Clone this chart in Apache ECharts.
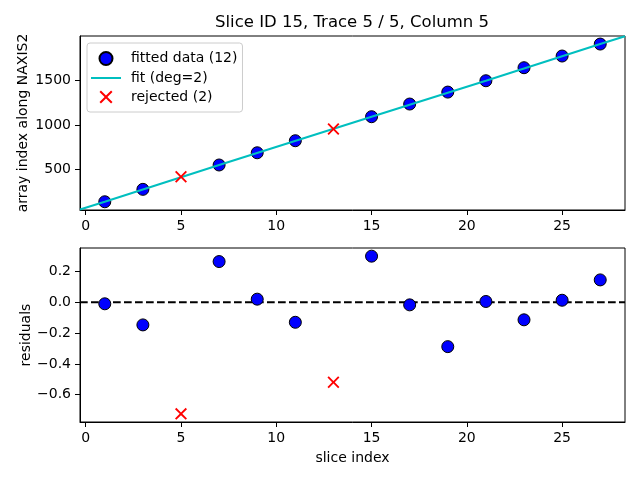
<!DOCTYPE html>
<html>
<head>
<meta charset="utf-8">
<script src="https://cdn.jsdelivr.net/npm/echarts@6/dist/echarts.min.js"></script>
<style>html,body{margin:0;padding:0;background:#fff}#c{width:640px;height:480px}</style>
</head>
<body>
<div id="c"></div>
<script>
const titleText = 'Slice ID 15, Trace 5 / 5, Column 5';
const fittedX = [1, 3, 7, 9, 11, 15, 17, 19, 21, 23, 25, 27];
const fittedY = [134, 274, 549, 687, 823, 1094, 1237, 1372, 1500, 1647, 1779, 1914];
const rejectedX = [5, 13];
const rejectedY = [416, 955];
const fitX = [-0.3, 1, 7, 15, 21, 27, 28.3];
const fitY = [46, 134, 549, 1094, 1500, 1914, 2003];
const residY = [-0.01, -0.147, 0.264, 0.02, -0.13, 0.299, -0.017, -0.288, 0.005, -0.114, 0.013, 0.145];
const rejectedResid = [-0.724, -0.519];
const zeroLineX = [-0.3, 28.3];
const zeroLineY = [0, 0];
const xTicks = [0, 5, 10, 15, 20, 25];
const topYTicks = [500, 1000, 1500];
const residTicks = [-0.6, -0.4, -0.2, 0, 0.2];

const FONT = 'DejaVu Sans';
const xMark = 'path://M0,1.1L1.1,0L5,3.9L8.9,0L10,1.1L6.1,5L10,8.9L8.9,10L5,6.1L1.1,10L0,8.9L3.9,5Z';
const lineIcon = 'path://M0,0L0.01,0L0,0.01ZM0,5.5L30,5.5L30,7.5L0,7.5ZM30,13L29.99,13L30,12.99Z';
const zip = (a, b) => a.map((v, i) => [v, b[i]]);

function xAxisCfg(gi, withName) {
  return {
    type: 'value', gridIndex: gi, min: -0.3, max: 28.3,
    axisLine: { show: true, onZero: false, lineStyle: { color: '#000', width: 1 } },
    axisTick: { show: true, length: 5, customValues: xTicks, lineStyle: { color: '#000' } },
    axisLabel: { customValues: xTicks, color: '#000', fontFamily: FONT, fontSize: 14, margin: 9 },
    splitLine: { show: false },
    name: withName ? 'slice index' : '', nameLocation: 'middle', nameGap: 29,
    nameTextStyle: { color: '#000', fontFamily: FONT, fontSize: 14 }
  };
}
function fmtMinus(v, dec) {
  const s = dec === 0 ? String(Math.round(v)) : v.toFixed(dec);
  return s.replace('-', '\u2212');
}

const chart = echarts.init(document.getElementById('c'), null, { renderer: 'canvas' });
chart.setOption({
  animation: false,
  backgroundColor: '#fff',
  title: {
    text: titleText, left: 352, top: 14, padding: 0, textAlign: 'center',
    textStyle: { color: '#000', fontFamily: FONT, fontSize: 16.5, fontWeight: 'normal' }
  },
  legend: {
    orient: 'vertical', left: 87, top: 43, padding: [8, 5, 8, 4],
    itemWidth: 30, itemHeight: 13, itemGap: 5,
    backgroundColor: 'rgba(255,255,255,0.8)', borderColor: '#cccccc', borderWidth: 1, borderRadius: 3,
    textStyle: { color: '#000', fontFamily: FONT, fontSize: 14, padding: [0, 0, 0, 5] },
    data: [
      { name: 'fitted data (12)', icon: 'circle' },
      { name: 'fit (deg=2)', icon: lineIcon },
      { name: 'rejected (2)', icon: xMark }
    ]
  },
  grid: [
    { left: 80, right: 15, top: 36, height: 174, show: true, borderColor: '#000', borderWidth: 1, backgroundColor: 'transparent' },
    { left: 80, right: 15, top: 248, height: 174, show: true, borderColor: '#000', borderWidth: 1, backgroundColor: 'transparent' }
  ],
  xAxis: [xAxisCfg(0, false), xAxisCfg(1, true)],
  yAxis: [
    {
      type: 'value', gridIndex: 0, min: 41, max: 2005,
      axisLine: { show: true, onZero: false, lineStyle: { color: '#000' } },
      axisTick: { show: true, length: 5, customValues: topYTicks, lineStyle: { color: '#000' } },
      axisLabel: { customValues: topYTicks, color: '#000', fontFamily: FONT, fontSize: 14, margin: 9,
                   formatter: v => fmtMinus(v, 0) },
      splitLine: { show: false },
      name: 'array index along NAXIS2', nameLocation: 'middle', nameGap: 50, nameMoveOverlap: false,
      nameTextStyle: { color: '#000', fontFamily: FONT, fontSize: 14 }
    },
    {
      type: 'value', gridIndex: 1, min: -0.777, max: 0.352,
      axisLine: { show: true, onZero: false, lineStyle: { color: '#000' } },
      axisTick: { show: true, length: 5, customValues: residTicks, lineStyle: { color: '#000' } },
      axisLabel: { customValues: residTicks, color: '#000', fontFamily: FONT, fontSize: 14, margin: 9,
                   formatter: v => fmtMinus(v, 1) },
      splitLine: { show: false },
      name: 'residuals', nameLocation: 'middle', nameGap: 47, nameMoveOverlap: false,
      nameTextStyle: { color: '#000', fontFamily: FONT, fontSize: 14 }
    }
  ],
  series: [
    {
      name: 'fitted data (12)', type: 'scatter', xAxisIndex: 0, yAxisIndex: 0, z: 2,
      symbol: 'circle', symbolSize: 12,
      itemStyle: { color: '#0000ff', borderColor: '#000', borderWidth: 1, opacity: 1 },
      data: zip(fittedX, fittedY)
    },
    {
      name: 'fit (deg=2)', type: 'line', xAxisIndex: 0, yAxisIndex: 0, z: 3,
      symbol: 'none', smooth: false,
      lineStyle: { color: '#00bfbf', width: 2 }, itemStyle: { color: '#00bfbf' },
      data: zip(fitX, fitY)
    },
    {
      name: 'rejected (2)', type: 'scatter', xAxisIndex: 0, yAxisIndex: 0, z: 4,
      symbol: xMark, symbolSize: 12,
      itemStyle: { color: '#ff0000', opacity: 1 },
      data: zip(rejectedX, rejectedY)
    },
    {
      name: 'zero', type: 'line', xAxisIndex: 1, yAxisIndex: 1, z: 1,
      symbol: 'none', lineStyle: { color: '#000', width: 2, type: [7.7, 3.3] },
      data: zip(zeroLineX, zeroLineY)
    },
    {
      name: 'resid', type: 'scatter', xAxisIndex: 1, yAxisIndex: 1, z: 2,
      symbol: 'circle', symbolSize: 12,
      itemStyle: { color: '#0000ff', borderColor: '#000', borderWidth: 1, opacity: 1 },
      data: zip(fittedX, residY)
    },
    {
      name: 'rejResid', type: 'scatter', xAxisIndex: 1, yAxisIndex: 1, z: 4,
      symbol: xMark, symbolSize: 12,
      itemStyle: { color: '#ff0000', opacity: 1 },
      data: zip(rejectedX, rejectedResid)
    }
  ]
});
</script>
</body>
</html>
